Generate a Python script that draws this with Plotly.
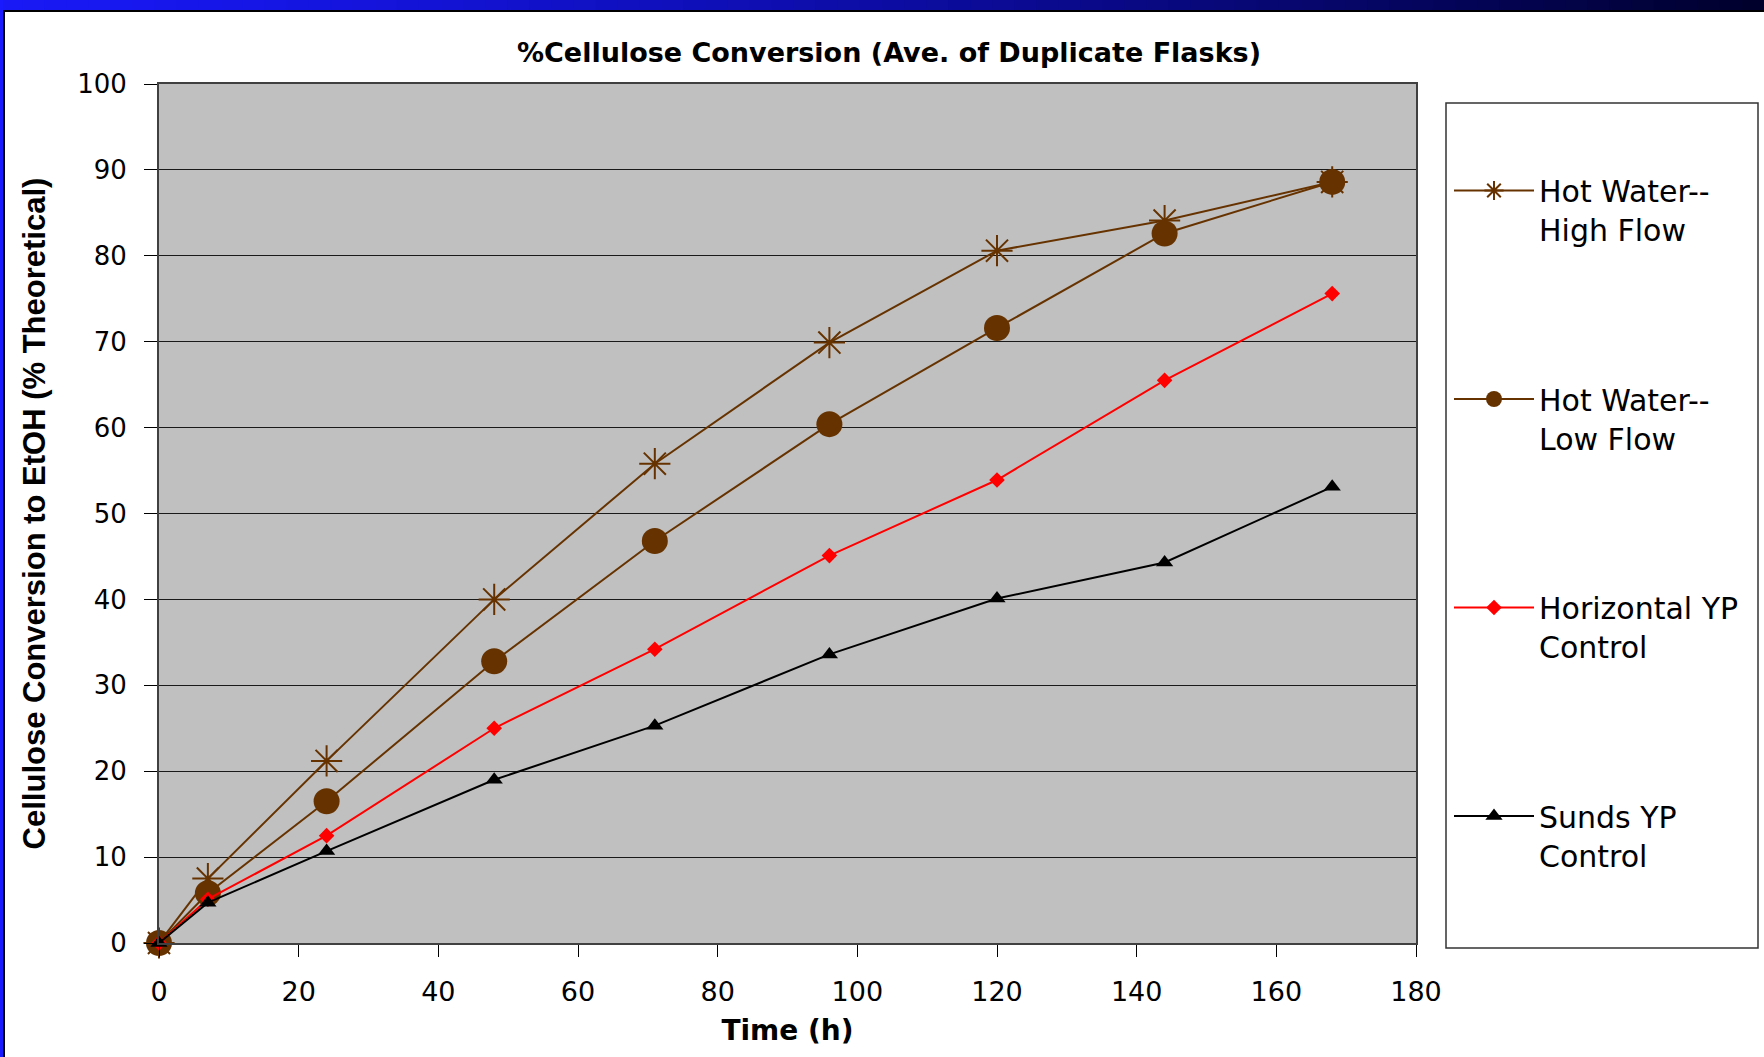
import plotly.graph_objects as go

# ---- data ----
time_h = [0, 7, 24, 48, 71, 96, 120, 144, 168]
hot_water_high = [0, 7.5, 21.2, 40.0, 55.8, 69.9, 80.6, 84.1, 88.6]
hot_water_low = [0, 5.8, 16.5, 32.8, 46.8, 60.4, 71.6, 82.6, 88.6]
horizontal_yp = [0, 5.1, 12.5, 25.0, 34.2, 45.1, 53.9, 65.5, 75.6]
sunds_yp = [0, 4.7, 10.7, 19.0, 25.3, 33.6, 40.1, 44.3, 53.1]

series_names = ["Hot Water--<br>High Flow", "Hot Water--<br>Low Flow",
                "Horizontal YP<br>Control", "Sunds YP<br>Control"]
x_ticks = [0, 20, 40, 60, 80, 100, 120, 140, 160, 180]
y_ticks = [0, 10, 20, 30, 40, 50, 60, 70, 80, 90, 100]

BROWN = "#663300"
W, H = 1764, 1057
L, R, T, B = 159, 348, 84, 114
PW, PH = W - L - R, H - T - B


def px_x(px):
    return (px - L) / PW


def px_y(py):
    return (H - B - py) / PH


fig = go.Figure()
styles = [
    dict(color=BROWN, symbol="asterisk-open", size=26, mline=2),
    dict(color=BROWN, symbol="circle", size=26, mline=0),
    dict(color="#ff0000", symbol="diamond", size=12, mline=0),
    dict(color="#000000", symbol="triangle-up", size=15, mline=0),
]
for i, (name, ys) in enumerate(zip(series_names,
                                    [hot_water_high, hot_water_low, horizontal_yp, sunds_yp])):
    s = styles[i]
    fig.add_trace(go.Scatter(
        x=time_h, y=ys, name=name, mode="lines+markers",
        legendgroup=f"g{i}",
        line=dict(color=s["color"], width=2),
        marker=dict(color=s["color"], symbol=s["symbol"], size=s["size"],
                    line=dict(color=s["color"], width=s["mline"])),
        cliponaxis=False,
    ))

shapes = []
# top gradient band
N = 80
for k in range(N):
    t = k / (N - 1)
    r = int(round(25 * (1 - t)))
    g = int(round(25 * (1 - t)))
    b = int(round(245 - 200 * t ** 1.3))
    x0 = k * W / N
    x1 = (k + 1) * W / N + 1
    shapes.append(dict(type="rect", xref="paper", yref="paper",
                       x0=px_x(x0), x1=px_x(x1), y0=px_y(10), y1=px_y(0),
                       line=dict(width=0), fillcolor=f"rgb({r},{g},{b})", layer="above"))
shapes.append(dict(type="rect", xref="paper", yref="paper",
                   x0=px_x(0), x1=px_x(W), y0=px_y(12), y1=px_y(10),
                   line=dict(width=0), fillcolor="#000000"))
# left border
shapes.append(dict(type="rect", xref="paper", yref="paper",
                   x0=px_x(0), x1=px_x(3), y0=px_y(H), y1=px_y(0),
                   line=dict(width=0), fillcolor="#1a1aff"))
shapes.append(dict(type="rect", xref="paper", yref="paper",
                   x0=px_x(3), x1=px_x(5), y0=px_y(H), y1=px_y(10),
                   line=dict(width=0), fillcolor="#000000"))
# legend box
shapes.append(dict(type="rect", xref="paper", yref="paper",
                   x0=px_x(1446), x1=px_x(1758), y0=px_y(948), y1=px_y(103),
                   line=dict(color="#333333", width=1.5), fillcolor="white", layer="below"))

fig.update_layout(
    width=W, height=H,
    margin=dict(l=L, r=R, t=T, b=B),
    paper_bgcolor="white",
    plot_bgcolor="#c0c0c0",
    shapes=shapes,
    title=dict(text="%Cellulose Conversion (Ave. of Duplicate Flasks)",
               x=889 / W, xanchor="center", xref="container",
               y=1 - 53 / H, yanchor="middle", yref="container",
               font=dict(family="DejaVu Sans", size=27, color="black", weight="bold")),
    legend=dict(
        x=px_x(1449), xanchor="left", y=px_y(164.5), yanchor="top",
        bgcolor="rgba(0,0,0,0)", borderwidth=0,
        font=dict(family="DejaVu Sans", size=30, color="black"),
        valign="top", tracegroupgap=127.5, traceorder="grouped",
        itemwidth=80,
    ),
    showlegend=True,
)
fig.update_xaxes(
    range=[0, 180], tickvals=x_ticks, ticks="outside", ticklen=12, tickwidth=1,
    tickcolor="black", showgrid=False, zeroline=False,
    showline=True, linecolor="#404040", linewidth=2, mirror=True,
    tickfont=dict(family="DejaVu Sans", size=27, color="black"),
    ticklabelstandoff=12,
    title=dict(text="Time (h)", standoff=14,
               font=dict(family="DejaVu Sans", size=28, color="black", weight="bold")),
)
fig.update_yaxes(
    range=[0, 100], tickvals=y_ticks, ticks="outside", ticklen=13, tickwidth=1,
    tickcolor="black", showgrid=True, gridcolor="#1a1a1a", gridwidth=1, zeroline=False,
    showline=True, linecolor="#404040", linewidth=2, mirror=True,
    tickfont=dict(family="DejaVu Sans", size=26, color="black"),
    ticklabelstandoff=12,
    title=dict(text="Cellulose Conversion to EtOH (% Theoretical)", standoff=22,
               font=dict(family="Liberation Sans", size=31, color="black", weight="bold")),
)

fig.write_html("out.html")
